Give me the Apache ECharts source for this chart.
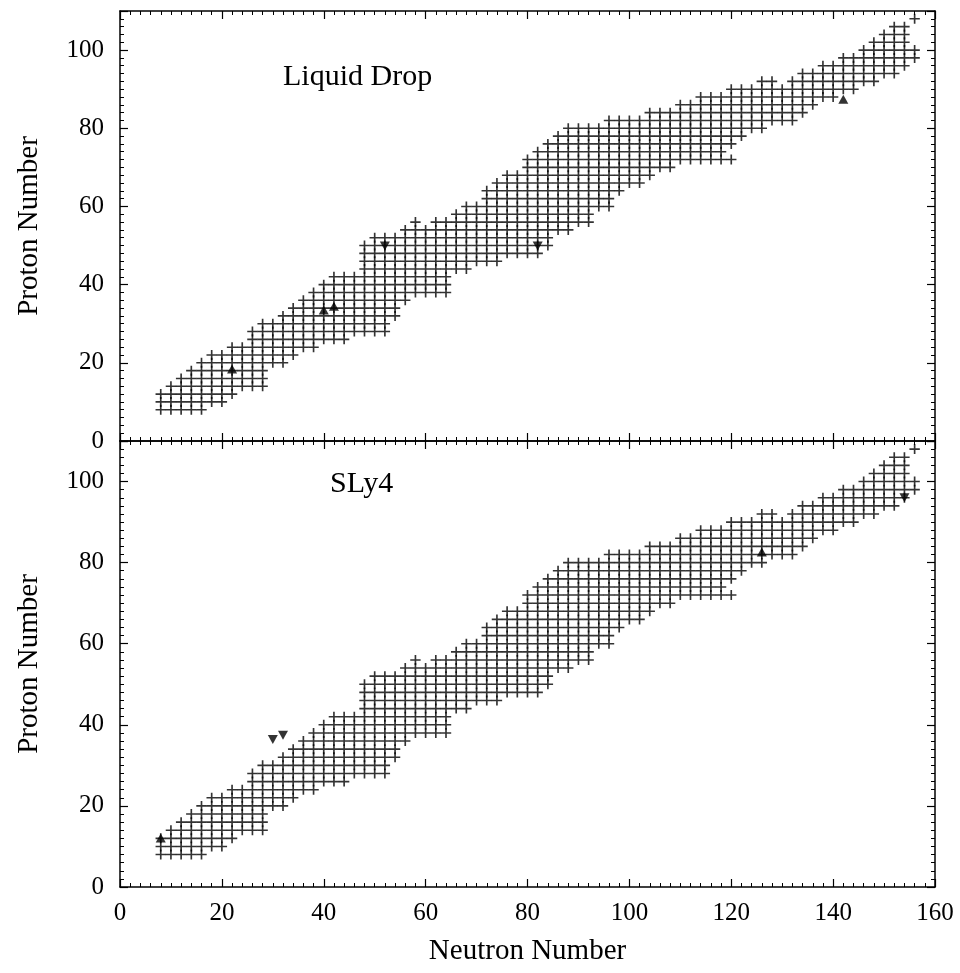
<!DOCTYPE html>
<html>
<head>
<meta charset="utf-8">
<script src="https://cdn.jsdelivr.net/npm/echarts@6/dist/echarts.min.js"></script>
<style>
  html, body { margin: 0; padding: 0; background: #fff; }
  #chart { width: 960px; height: 973px; }
</style>
</head>
<body>
<div id="chart"></div>
<script>
// even-even nuclei: one row per proton number, neutron range
const protonZ    = [8,10,12,14,16,18,20,22,24,26,28,30,32,34,36,38,40,42,44,46,48,50,52,54,56,58,60,62,64,66,68,70,72,74,76,78,80,82,84,86,88,90,92,94,96,98,100,102,104,106,108];
const neutronMin = [8,8,8,10,12,14,16,18,22,26,26,28,32,34,36,38,40,42,48,48,48,48,50,56,58,66,68,72,72,74,76,80,80,82,84,86,88,96,104,110,114,120,126,134,138,142,146,148,150,152,156];
const neutronMax = [16,20,22,28,28,28,32,34,38,44,52,52,54,54,56,64,64,64,68,74,82,84,84,88,92,92,96,96,98,102,104,108,120,118,120,122,126,132,134,136,140,144,148,152,154,156,156,154,154,154,156];
// holes inside a row [N, Z]
const missing = [[60,56],[130,92]];

// highlighted nuclei [N, Z]
const liquidUp   = [[22,18.4],[40,33.5],[42,34.5],[142,87.4]];
const liquidDown = [[52,49.9],[82,49.9]];
const slyUp      = [[8,12.1],[126,82.6]];
const slyDown    = [[30,36.4],[32,37.4],[154,96.0]];

const xTicks = [0,20,40,60,80,100,120,140,160];

const nuclei = [];
protonZ.forEach(function (z, i) {
  for (let n = neutronMin[i]; n <= neutronMax[i]; n += 2) {
    const hole = missing.some(function (m) { return m[0] === n && m[1] === z; });
    if (!hole) nuclei.push([n, z]);
  }
});

const FONT = 'Liberation Serif';
const plus = 'path://M0,4.2H10V5.8H0Z M4.2,0H5.8V10H4.2Z';

function tick(len, w) {
  return { inside: true, length: len, lineStyle: { color: '#000', width: w } };
}

function xAxes(g, withLabels) {
  const line = { show: true, onZero: false, lineStyle: { color: '#000', width: 1.5 } };
  const noLine = { show: false, onZero: false };
  const lab = {
    show: withLabels, interval: 0, margin: 14, color: '#000', fontFamily: FONT, fontSize: 25,
    formatter: function (v) { return xTicks.indexOf(v) >= 0 ? v : ''; }
  };
  const base = { type: 'value', gridIndex: g, min: 0, max: 160, splitLine: { show: false } };
  const out = [
    Object.assign({}, base, { position: 'bottom', interval: 2, axisLine: line, axisTick: tick(4, 1), axisLabel: lab }),
    Object.assign({}, base, { position: 'bottom', interval: 20, axisLine: noLine, axisTick: tick(8, 1.2), axisLabel: { show: false } }),
    Object.assign({}, base, { position: 'top', interval: 2, axisLine: line, axisTick: tick(4, 1), axisLabel: { show: false } }),
    Object.assign({}, base, { position: 'top', interval: 20, axisLine: noLine, axisTick: tick(8, 1.2), axisLabel: { show: false } })
  ];
  if (withLabels) {
    out[0].name = 'Neutron Number';
    out[0].nameLocation = 'middle';
    out[0].nameGap = 50;
    out[0].nameTextStyle = { color: '#000', fontFamily: FONT, fontSize: 29 };
  }
  return out;
}

function yAxes(g) {
  const line = { show: true, onZero: false, lineStyle: { color: '#000', width: 1.5 } };
  const noLine = { show: false, onZero: false };
  const base = { type: 'value', gridIndex: g, min: 0, max: 110, splitLine: { show: false } };
  return [
    Object.assign({}, base, { position: 'left', interval: 2, axisLine: line, axisTick: tick(4, 1),
      axisLabel: { interval: 0, margin: 16, color: '#000', fontFamily: FONT, fontSize: 25,
        formatter: function (v) { return (v % 20 === 0 && v <= 100) ? v : ''; } },
      name: 'Proton Number', nameLocation: 'middle', nameRotate: 90, nameGap: 76,
      nameTextStyle: { color: '#000', fontFamily: FONT, fontSize: 29 } }),
    Object.assign({}, base, { position: 'left', interval: 20, axisLine: noLine, axisTick: tick(8, 1.2), axisLabel: { show: false } }),
    Object.assign({}, base, { position: 'right', interval: 2, axisLine: line, axisTick: tick(4, 1), axisLabel: { show: false } }),
    Object.assign({}, base, { position: 'right', interval: 20, axisLine: noLine, axisTick: tick(8, 1.2), axisLabel: { show: false } })
  ];
}

function panelSeries(g, up, down) {
  return [
    { type: 'scatter', xAxisIndex: g * 4, yAxisIndex: g * 4, data: nuclei, symbol: plus,
      symbolSize: [10.4, 10], itemStyle: { color: '#000' }, silent: true, animation: false },
    { type: 'scatter', xAxisIndex: g * 4, yAxisIndex: g * 4, data: up, symbol: 'triangle',
      symbolSize: [10, 9], itemStyle: { color: '#000' }, silent: true, animation: false },
    { type: 'scatter', xAxisIndex: g * 4, yAxisIndex: g * 4, data: down, symbol: 'triangle',
      symbolRotate: 180, symbolSize: [10, 9], itemStyle: { color: '#000' }, silent: true, animation: false }
  ];
}

const myChart = echarts.init(document.getElementById('chart'), null, { renderer: 'canvas' });
const option = {
  backgroundColor: '#fff',
  animation: false,
  grid: [
    { left: 120, top: 11, width: 815, height: 430 },
    { left: 120, top: 441, width: 815, height: 446 }
  ],
  xAxis: xAxes(0, false).concat(xAxes(1, true)),
  yAxis: yAxes(0).concat(yAxes(1)),
  graphic: [
    { type: 'text', x: 283, y: 77, style: { text: 'Liquid Drop', font: '30px "Liberation Serif"', fill: '#000', verticalAlign: 'middle' } },
    { type: 'text', x: 330, y: 484, style: { text: 'SLy4', font: '30px "Liberation Serif"', fill: '#000', verticalAlign: 'middle' } }
  ],
  series: panelSeries(0, liquidUp, liquidDown).concat(panelSeries(1, slyUp, slyDown))
};
myChart.setOption(option);
</script>
</body>
</html>
